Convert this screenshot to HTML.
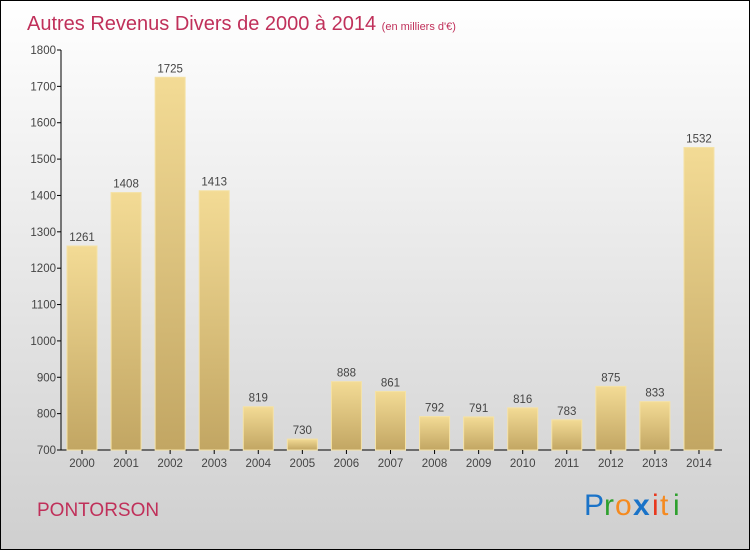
<!DOCTYPE html>
<html><head><meta charset="utf-8"><style>
body{margin:0}
#wrap{position:relative;width:748px;height:548px;border:1px solid #000;background:linear-gradient(#ffffff,#cfcfcf);font-family:"Liberation Sans",sans-serif;overflow:hidden}
</style></head><body>
<div id="wrap">
<svg id="chart" width="748" height="548">
<defs><linearGradient id="bg" x1="0" y1="0" x2="0" y2="1"><stop offset="0" stop-color="#f3db95"/><stop offset="1" stop-color="#c2a663"/></linearGradient></defs>
<text x="26" y="29" font-size="20" fill="#c0305a">Autres Revenus Divers de 2000 à 2014 <tspan font-size="11">(en milliers d'€)</tspan></text>
<text x="36" y="515" font-size="19" fill="#c0305a">PONTORSON</text>
<g font-size="30" font-family="'Liberation Sans',sans-serif"><text x="583" y="514" fill="#1a73c8">P</text><text x="603" y="514" fill="#2ea02e">r</text><text x="614" y="514" fill="#f58a1f">o</text><text x="632" y="514" fill="#1a73c8" font-weight="bold">x</text><text x="651" y="514" fill="#e8381e">i</text><text x="659" y="514" fill="#f58a1f">t</text><text x="672" y="514" fill="#2ea02e">i</text></g>
<g id="plot"></g>
</svg></div>
<script>
const years=["2000","2001","2002","2003","2004","2005","2006","2007","2008","2009","2010","2011","2012","2013","2014"];
const values=[1261,1408,1725,1413,819,730,888,861,792,791,816,783,875,833,1532];
const yTicks=[700,800,900,1000,1100,1200,1300,1400,1500,1600,1700,1800];
const NS="http://www.w3.org/2000/svg";
const g=document.getElementById('plot');
const y=v=>449-(v-700)*400/1100;
const x=i=>81+i*44.07;
function el(t,a){const e=document.createElementNS(NS,t);for(const k in a)e.setAttribute(k,a[k]);g.appendChild(e);return e;}
const ya=el('line',{x1:60,y1:49,x2:60,y2:449,stroke:'#000'});


const xa=el('line',{x1:60,y1:449,x2:721,y2:449,stroke:'#000'});


yTicks.forEach(v=>{
 el('line',{x1:56,x2:60,y1:y(v),y2:y(v),stroke:'#000'});
 const t=el('text',{x:55,y:y(v)+4,'font-size':11.5,fill:'#444','text-anchor':'end'});
 t.textContent=v;
 
 
});
years.forEach((yr,i)=>{
 const cx=x(i);
 const r=el('rect',{x:cx-15,y:y(values[i]),width:30,height:449-y(values[i]),fill:'url(#bg)',stroke:'#f5e2a6','stroke-width':1});
 
 
 el('line',{x1:cx,x2:cx,y1:449,y2:453,stroke:'#000'});
 const l=el('text',{x:cx,y:466,'font-size':11.5,fill:'#444','text-anchor':'middle'});
 l.textContent=yr;
 
 
 const v=el('text',{x:cx,y:y(values[i])-5,'font-size':11.5,fill:'#444','text-anchor':'middle'});
 v.textContent=values[i];
 
 
});
</script>
</body></html>
